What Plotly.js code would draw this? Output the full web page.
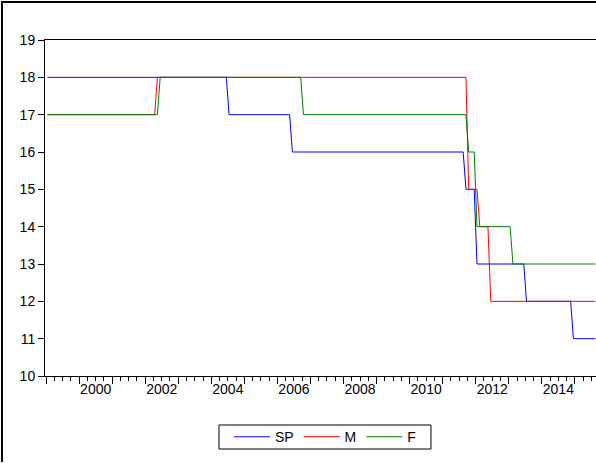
<!DOCTYPE html>
<html>
<head>
<meta charset="utf-8">
<script src="https://cdn.plot.ly/plotly-3.0.1.min.js"></script>
<style>
  html, body { margin: 0; padding: 0; background: #fff; }
  #wrap { position: relative; width: 596px; height: 463px; overflow: hidden; }
  #chart { position: absolute; left: 0; top: 0; width: 596px; height: 463px; }
  #frame { position: absolute; left: 1px; top: 1px; width: 640px; height: 459px;
           border-left: 2px solid #000; border-top: 2px solid #000; pointer-events: none; }
</style>
</head>
<body>
<div id="wrap"><div id="chart"></div><div id="frame"></div></div>
<script>
const spDates = ['1999-01-15','2004-06-15','2004-07-15','2006-05-15','2006-06-15','2011-08-15','2011-09-15',
                 '2011-12-15','2012-01-15','2013-06-15','2013-07-15','2014-11-15','2014-12-15','2015-08-15'];
const spValues = [18,18,17,17,16,16,15,15,13,13,12,12,11,11];

const mDates = ['1999-01-15','2002-04-15','2002-05-15','2011-09-15','2011-10-15','2012-01-15','2012-02-15',
                '2012-05-15','2012-06-15','2015-08-15'];
const mValues = [17,17,18,18,15,15,14,14,12,12];

const fDates = ['1999-01-15','2002-05-15','2002-06-15','2006-09-15','2006-10-15','2011-09-15','2011-10-15',
                '2011-12-15','2012-01-15','2013-01-15','2013-02-15','2015-08-15'];
const fValues = [17,17,18,18,17,17,16,16,14,14,13,13];

const seriesNames = ['SP','M','F'];
const tickYears = ['2000','2002','2004','2006','2008','2010','2012','2014'];
const yTicks = [10,11,12,13,14,15,16,17,18,19];

const xRange = ['1998-12-20','2015-08-22'];
const font = {family: '"Liberation Sans", Arial, sans-serif', size: 14, color: '#000'};

const traces = [
  {x: spDates, y: spValues, name: seriesNames[0], type: 'scatter', mode: 'lines', line: {color: '#0000ff', width: 1}},
  {x: mDates, y: mValues, name: seriesNames[1], type: 'scatter', mode: 'lines', line: {color: '#ff0000', width: 1}},
  {x: fDates, y: fValues, name: seriesNames[2], type: 'scatter', mode: 'lines', line: {color: '#008000', width: 1}},
  {x: [], y: [], xaxis: 'x2', yaxis: 'y', showlegend: false, hoverinfo: 'skip', type: 'scatter', mode: 'lines'}
];

const layout = {
  width: 596, height: 463,
  margin: {l: 45, r: 0, t: 40, b: 87, pad: 0},
  paper_bgcolor: '#fff', plot_bgcolor: '#fff',
  font: font,
  showlegend: true,
  legend: {
    orientation: 'h', x: 0.508, xanchor: 'center', y: -0.182, yanchor: 'middle',
    borderwidth: 0, bgcolor: 'rgba(0,0,0,0)', font: font, itemwidth: 36
  },
  shapes: [
    {type: 'rect', xref: 'paper', yref: 'paper', x0: 0.3158, x1: 0.7005, y0: -0.1458, y1: -0.2173,
     line: {color: '#000', width: 1}, fillcolor: 'rgba(0,0,0,0)', layer: 'below'}
  ],
  xaxis: {
    type: 'date', range: xRange, automargin: false,
    showgrid: false, zeroline: false,
    showline: true, linecolor: '#000', linewidth: 1, mirror: true,
    ticks: '', tickmode: 'array',
    tickvals: tickYears.map(y => y + '-07-02'), ticktext: tickYears,
    ticklen: 0, tickfont: font
  },
  xaxis2: {
    type: 'date', range: xRange, overlaying: 'x', anchor: 'y', side: 'bottom', automargin: false,
    showgrid: false, zeroline: false, showline: false, showticklabels: false,
    ticks: 'outside', tickmode: 'linear', tick0: '2000-01-01', dtick: 'M12', ticklen: 7, tickcolor: '#000', tickwidth: 1,
    minor: {ticks: 'outside', tickmode: 'linear', tick0: '2000-01-01', dtick: 'M3', ticklen: 4, tickcolor: '#000', tickwidth: 1, showgrid: false}
  },
  yaxis: {
    range: [10, 19], automargin: false,
    showgrid: false, zeroline: false,
    showline: true, linecolor: '#000', linewidth: 1,
    ticks: 'outside', ticklen: 6, tickcolor: '#000', tickwidth: 1,
    tickmode: 'array', tickvals: yTicks, ticktext: yTicks.map(String),
    tickfont: font
  }
};

Plotly.newPlot('chart', traces, layout, {displayModeBar: false, staticPlot: true});
</script>
</body>
</html>
